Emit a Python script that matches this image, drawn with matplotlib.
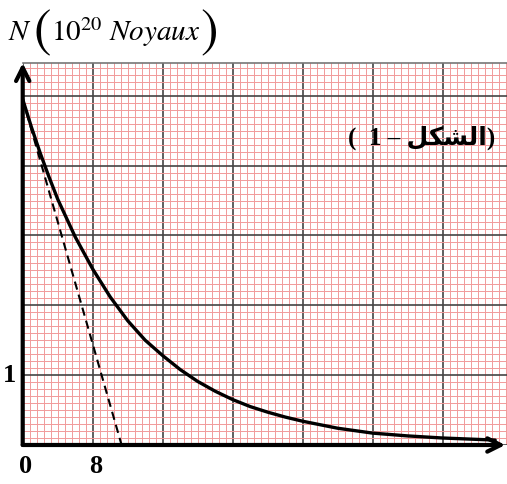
import matplotlib
matplotlib.use("Agg")
import matplotlib.pyplot as plt
from matplotlib.ticker import MultipleLocator

# values (t in units of the x axis, N in 10^20 nuclei)
t_vals = [0, 1, 2, 3, 4, 6, 8, 10, 12, 14, 16, 18, 20, 22, 24, 26, 28, 30,
          32, 34, 36, 40, 44, 48, 52, 54]
n_vals = [4.95, 4.55, 4.18, 3.84, 3.52, 2.98, 2.52, 2.12, 1.78, 1.50, 1.28,
          1.08, 0.91, 0.77, 0.65, 0.55, 0.47, 0.40, 0.34, 0.29, 0.24, 0.17,
          0.13, 0.10, 0.08, 0.07]
tangent_t = [0, 11.3]
tangent_n = [4.95, 0]

x_ticks = [0, 8]
x_labels = ["0", "8"]
y_ticks = [1]
y_labels = ["1"]

# y-axis title pieces: N ( 10^20 Noyaux ) with tall brackets
title_parts = [(r"$N$", 8, 21), (r"$($", 33, 38), (r"$10^{20}\ Noyaux$", 51, 21),
               (r"$)$", 200, 38)]
# "(الشكل – 1)" written with Arabic presentation forms in visual order,
# matplotlib does not shape Arabic itself
fig_label = "(  1 \u2013 \ufede\ufedc\ufeb8\ufedf\ufe8d)"

xmax, ymax = 55.35, 5.47
W, H = 507, 484

plt.rcParams["mathtext.fontset"] = "stix"

fig = plt.figure(figsize=(5.07, 4.84), dpi=100)
ax = fig.add_axes([0.0448, 0.0806, 0.9552, 0.7892])
ax.set_xlim(0, xmax)
ax.set_ylim(0, ymax)

# graph paper
ax.xaxis.set_major_locator(MultipleLocator(8))
ax.xaxis.set_minor_locator(MultipleLocator(0.8))
ax.yaxis.set_major_locator(MultipleLocator(1))
ax.yaxis.set_minor_locator(MultipleLocator(0.1))
ax.grid(which="minor", color="#f19a9a", lw=0.7)
ax.grid(which="major", color="#444444", lw=1.2)
ax.set_axisbelow(True)
ax.tick_params(which="both", length=0, labelbottom=False, labelleft=False)
for s in ["left", "bottom", "right"]:
    ax.spines[s].set_visible(False)
ax.spines["top"].set_color("#777777")
ax.spines["top"].set_linewidth(1.2)

ax.plot(t_vals, n_vals, color="black", lw=2.4, solid_capstyle="round", zorder=4)
ax.plot(tangent_t, tangent_n, color="black", lw=1.5, ls=(0, (4, 2.5)), zorder=4)

# axes with arrows
ax.annotate("", xy=(0, ymax), xytext=(0, 0),
            arrowprops=dict(arrowstyle="->", lw=3, color="black",
                            mutation_scale=24, shrinkA=0, shrinkB=0),
            annotation_clip=False, zorder=5)
ax.annotate("", xy=(xmax - 0.2, 0), xytext=(0, 0),
            arrowprops=dict(arrowstyle="->", lw=3, color="black",
                            mutation_scale=24, shrinkA=0, shrinkB=0),
            annotation_clip=False, zorder=5)

lab = dict(fontfamily="Liberation Serif", fontweight="bold", fontsize=19)
for x, s in zip(x_ticks, x_labels):
    ax.text(x + 0.3, -0.14, s, ha="center", va="top", **lab)
for y, s in zip(y_ticks, y_labels):
    ax.text(-1.55, y, s, ha="center", va="center", **lab)

for s, px, fs in title_parts:
    fig.text(px / W, 1 - 32 / H, s, fontsize=fs, ha="left", va="center")

ax.text(45.6, 4.4, fig_label, fontsize=18, fontweight="bold",
        fontfamily=["Liberation Serif", "DejaVu Sans"],
        ha="center", va="center")

fig.savefig("out.png", dpi=100)
